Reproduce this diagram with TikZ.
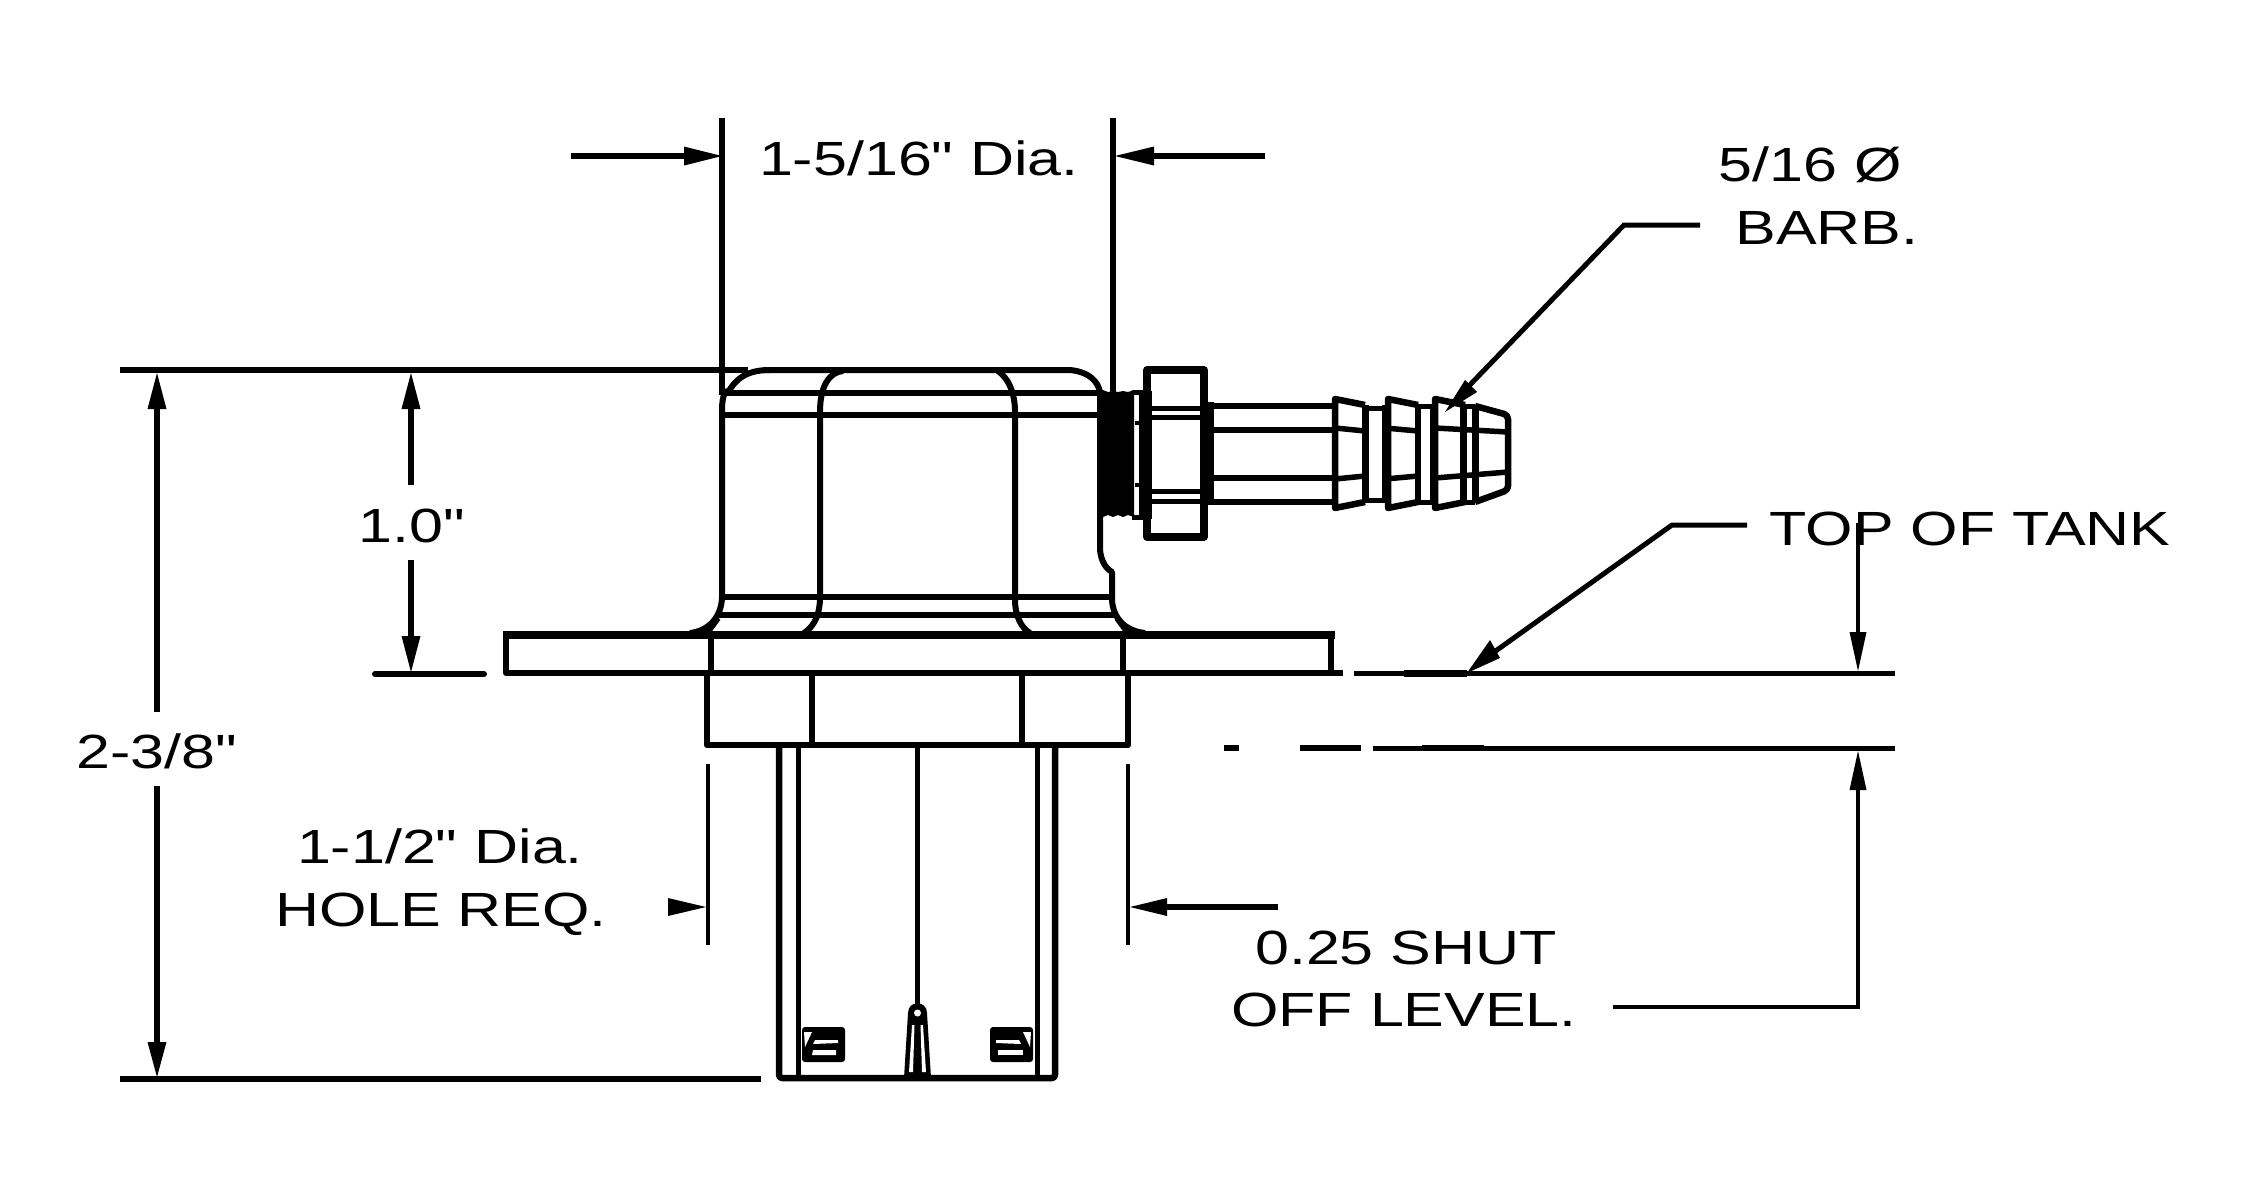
\documentclass[tikz,border=0pt]{standalone}
\usepackage{fontspec}
\newfontfamily\lblfont[FakeStretch=1.27]{Liberation Sans}
\tikzset{
  lbl/.style={font=\lblfont\fontsize{48}{48}\selectfont,anchor=base,inner sep=0pt,text=black},
  heavy/.style={line width=6pt,line cap=butt,line join=round},
  mid/.style={line width=5pt,line cap=butt,line join=round},
  thin/.style={line width=4.5pt,line cap=butt,line join=round},
}
\newcommand{\headV}[3]{\fill (#1,#2) -- (#1-9.5,#3) -- (#1+9.5,#3) -- cycle;}
\newcommand{\headH}[3]{\fill (#1,#2) -- (#3,#2-9.5) -- (#3,#2+9.5) -- cycle;}
\begin{document}
\begin{tikzpicture}[x=1pt,y=-1pt]
\useasboundingbox (0,0) rectangle (2250,1200);
\fill[white] (0,0) rectangle (2250,1200);
% ---------- labels
\node[lbl] (dia) at (919,175) {1-5/16" Dia.};
\node[lbl] (barbA) at (1810,181) {5/16 Ø};
\node[lbl] (barbB) at (1827,244) {BARB.};
\node[lbl] (tank) at (1970,545) {TOP OF TANK};
\node[lbl] (one) at (412,542) {1.0"};
\node[lbl] (total) at (157,768) {2-3/8"};
\node[lbl] (holeA) at (440,863) {1-1/2" Dia.};
\node[lbl] (holeB) at (441,926) {HOLE REQ.};
\node[lbl] (shutA) at (1406,964) {0.25 SHUT};
\node[lbl] (shutB) at (1404,1026) {OFF LEVEL.};
% ---------- body
\draw[heavy] (120,370) -- (748,370);
\draw[heavy] (763,370) -- (1070,370) .. controls (1090,372) and (1098,382) .. (1100,392);
\draw[heavy] (1100,390) -- (1100,550) .. controls (1101,560) and (1105,568) .. (1112,572)
  -- (1112,600) .. controls (1113,618) and (1125,631) .. (1145,633);
\draw[heavy] (722,410) .. controls (722,395) and (726,388) .. (729,392);
\draw[heavy] (727,394) .. controls (735,380) and (745,370) .. (770,370);
\draw[heavy] (722,410) -- (722,598) .. controls (721,618) and (708,631) .. (690,633);
\draw[heavy] (727,393) -- (1100,393);
\draw[heavy] (722,415) -- (1100,415);
\draw[heavy] (722,597) -- (1112,597);
\draw[heavy] (718,615) -- (1117,615);
\draw[heavy] (718,618) -- (707,633);
\draw[heavy] (1117,618) -- (1128,633);
\draw[heavy] (843,371) .. controls (830,372) and (820,385) .. (820,412) -- (820,597)
  .. controls (820,612) and (816,625) .. (804,633);
\draw[heavy] (998,371) .. controls (1008,378) and (1015,392) .. (1015,412) -- (1015,600)
  .. controls (1015,615) and (1021,628) .. (1030,633);
% ---------- flange
\draw[line width=6pt,line join=round] (506,635) -- (506,673) -- (1331,673) -- (1331,635);
\draw[line width=8.5pt] (503,635) -- (1335,635);
\draw[heavy] (711,635) -- (711,673);
\draw[heavy] (1123,635) -- (1123,673);
% ---------- nut under flange
\draw[line width=6.5pt,line join=round] (707,673) -- (707,745) -- (1128,745) -- (1128,673);
\draw[line width=6.5pt] (812,673) -- (812,745);
\draw[line width=6.5pt] (1022,673) -- (1022,745);
% ---------- stem
\draw[line width=6.5pt,line join=round,rounded corners=3pt] (779,745) -- (779,1078) -- (1055,1078) -- (1055,745);
\draw[mid] (798,745) -- (798,1078);
\draw[mid] (1037,745) -- (1037,1078);
\draw[mid] (917.5,745) -- (917.5,1006);
% windows
\fill[rounded corners=3pt] (802,1027) rectangle (845,1062);
\fill[rounded corners=3pt] (990,1027) rectangle (1033,1062);
\fill[white] (804,1032) -- (812,1032) -- (805,1047) -- cycle;
\fill[white] (815,1040) -- (838,1040) -- (838,1043) -- (813,1044) -- cycle;
\fill[white] (813,1050) -- (836,1050) -- (836,1055) -- (812,1055) -- cycle;
\fill[white] (1031,1032) -- (1023,1032) -- (1030,1047) -- cycle;
\fill[white] (996,1040) -- (1019,1040) -- (1021,1044) -- (996,1043) -- cycle;
\fill[white] (998,1050) -- (1023,1050) -- (1023,1055) -- (998,1055) -- cycle;
% float
\fill (904,1078) -- (908,1013) .. controls (908,1000) and (927,1000) .. (927,1013) -- (931,1078) -- cycle;
\fill[white] (917.5,1013) circle[radius=3.5];
\fill[white] (912,1025) -- (914.5,1025) -- (913,1072) -- (909,1072) -- cycle;
\fill[white] (920.5,1025) -- (923,1025) -- (926,1072) -- (922,1072) -- cycle;
% ---------- thread and fitting
\fill (1097,392) -- (1103,390) -- (1108,392) -- (1113,391) -- (1118,392) -- (1123,391) -- (1128,392) -- (1134,390)
  -- (1134,517) -- (1128,515) -- (1123,517) -- (1118,515) -- (1113,517) -- (1108,515) -- (1103,517) -- (1097,517) -- cycle;
\draw[mid] (1132,392) -- (1146,392);
\draw[mid] (1132,517) -- (1146,517);
\draw[line width=3.5pt] (1135,423) -- (1140,423);
\draw[line width=3.5pt] (1135,485) -- (1140,485);
\fill (1139,391) rectangle (1152,519);
\draw[line width=7.5pt,line join=round] (1147,370) rectangle (1204,537);
\draw[mid] (1152,408) -- (1200,408);
\draw[mid] (1152,417) -- (1200,417);
\draw[mid] (1152,491) -- (1200,491);
\draw[mid] (1152,501) -- (1200,501);
\fill (1207,402) rectangle (1214,505);
\draw[heavy] (1214,406) -- (1332,406);
\draw[heavy] (1214,430) -- (1332,430);
\draw[heavy] (1214,478) -- (1332,478);
\draw[heavy] (1214,502) -- (1332,502);
% barbs
\draw[line width=6.5pt,line join=round] (1365,405) -- (1335,399) -- (1335,508) -- (1365,502);
\draw[line width=6.5pt,line join=round] (1418,405) -- (1388,399) -- (1388,508) -- (1418,502);
\draw[line width=6.5pt,line join=round] (1465,405) -- (1435,399) -- (1435,508) -- (1465,502);
\draw[line width=6.5pt,line join=round,rounded corners=4pt] (1475,406) -- (1508,415) -- (1508,490) -- (1475,502);
\draw[line width=7pt] (1365,405) -- (1365,502);
\draw[line width=7pt] (1385,405) -- (1385,502);
\draw[line width=6pt] (1418,405) -- (1418,502);
\draw[line width=5pt] (1432,405) -- (1432,502);
\draw[line width=7pt] (1463,405) -- (1463,502);
\draw[line width=7pt] (1475,405) -- (1475,502);
\draw[mid] (1365,408) -- (1385,408);
\draw[mid] (1365,500) -- (1385,500);
\draw[mid] (1418,406) -- (1432,406);
\draw[mid] (1418,502) -- (1432,502);
\draw[mid] (1463,406) -- (1475,406);
\draw[mid] (1463,502) -- (1475,502);
\draw[line width=5.5pt] (1335,428) -- (1365,431) (1385,428) -- (1418,431) (1435,428) -- (1508,432);
\draw[line width=5.5pt] (1335,479) -- (1365,476) (1385,479) -- (1418,476) (1435,478) -- (1508,472);
% ---------- top dim
\draw[heavy] (722,118) -- (722,395);
\draw[heavy] (1113,118) -- (1113,392);
\draw[heavy] (571,156) -- (690,156);
\headH{722}{156}{684}
\draw[heavy] (1265,156) -- (1150,156);
\headH{1115}{156}{1154}
% ---------- left dims
\draw[heavy] (120,1079) -- (761,1079);
\draw[heavy] (157,405) -- (157,712);
\draw[heavy] (157,786) -- (157,1046);
\headV{157}{373}{409}
\headV{157}{1077}{1042}
\draw[heavy] (411,405) -- (411,485);
\draw[heavy] (411,560) -- (411,640);
\headV{411}{373}{409}
\headV{411}{672}{636}
\draw[line width=6pt,line cap=round] (375,674) -- (484,674);
% ---------- hole dim
\draw[thin] (708,764) -- (708,945);
\draw[thin] (1128,764) -- (1128,945);
\fill (706,907) -- (668,898) -- (668,916) -- cycle;
\draw[heavy] (1278,907) -- (1160,907);
\fill (1130,907) -- (1167,898) -- (1167,916) -- cycle;
% ---------- tank lines
\draw[heavy] (1331,673) -- (1343,673);
\draw[mid] (1354,673) -- (1895,673);
\draw[line width=7pt] (1404,673) -- (1467,673);
\fill (1224,745) rectangle (1239,751);
\fill (1300,745) rectangle (1361,751);
\draw[mid] (1373,748) -- (1895,748);
\draw[line width=6.5pt] (1422,748) -- (1484,748);
% leaders
\draw[mid,line join=miter] (1747,525) -- (1672,525) -- (1490,655);
\fill (1467,673) -- (1490,640) -- (1500,658) -- cycle;
\draw[mid,line join=miter] (1700,225) -- (1624,225) -- (1465,390);
\fill (1445,412) -- (1465,380) -- (1477,392) -- cycle;
% vertical tank dim
\draw[thin] (1858,523) -- (1858,640);
\fill (1858,671) -- (1849.5,632) -- (1866.5,632) -- cycle;
\fill (1858,751) -- (1849.5,790) -- (1866.5,790) -- cycle;
\draw[thin,line join=miter] (1858,785) -- (1858,1007) -- (1613,1007);
\end{tikzpicture}
\end{document}
